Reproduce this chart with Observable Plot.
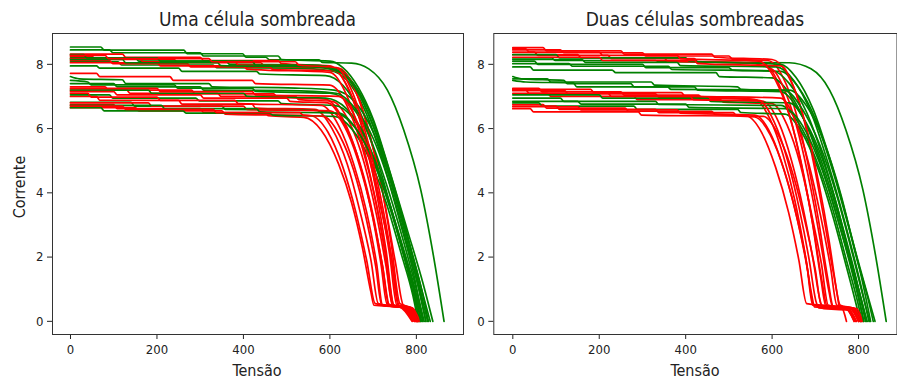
<!DOCTYPE html>
<html>
<head>
<meta charset="utf-8">
<script src="https://cdn.jsdelivr.net/npm/d3@7"></script>
<script src="https://cdn.jsdelivr.net/npm/@observablehq/plot@0.6"></script>
<style>
  html, body { margin: 0; padding: 0; background: #fff; }
  #wrap { position: relative; width: 897px; height: 381px; overflow: hidden; }
  #wrap svg { position: absolute; top: 0; }
  .lbl { font-family: "DejaVu Sans Condensed", "DejaVu Sans", sans-serif; fill: #222; }
</style>
</head>
<body>
<div id="wrap"></div>
<script>
// ---------- DATA (Tensão, Corrente pairs) ----------
const panelTitles = ["Uma célula sombreada", "Duas células sombreadas"];
const xLabel = "Tensão";
const yLabel = "Corrente";
const xTicks = [0, 200, 400, 600, 800];
const yTicks = [0, 2, 4, 6, 8];

// Left panel: one shaded cell
const unaGreen = [
  [0,8.54, 70,8.54, 78,8.44, 262,8.44, 270,8.33, 398,8.33, 406,8.22, 452,8.22, 460,8.14, 575,8.14, 583,8.06, 650,8.04, 690,7.86, 733,7.2, 771,5.95, 810,4.1, 840,2.0, 864,0],
  [0,8.45, 90,8.45, 98,8.36, 300,8.36, 308,8.26, 480,8.26, 488,8.15, 600,8.1, 630,7.9, 665,7.3, 700,6.3, 740,4.6, 780,2.8, 815,1.2, 838,0],
  [0,8.08, 110,8.08, 118,7.98, 330,7.98, 338,7.9, 520,7.88, 600,7.8, 640,7.5, 680,6.6, 720,5.1, 760,3.2, 795,1.4, 815,0],
  [0,7.95, 60,7.95, 68,7.88, 250,7.88, 258,7.78, 430,7.78, 438,7.7, 590,7.65, 630,7.35, 670,6.5, 710,5.0, 750,3.1, 785,1.3, 808,0],
  [0,8.2, 150,8.2, 158,8.1, 360,8.1, 368,8.0, 560,7.98, 620,7.85, 655,7.4, 695,6.4, 735,4.8, 775,2.9, 805,1.2, 826,0],
  [0,7.62, 20,7.55, 120,7.52, 128,7.4, 320,7.4, 328,7.3, 520,7.26, 610,7.2, 660,6.8, 700,5.9, 740,4.4, 780,2.6, 812,1.0, 832,0],
  [0,7.5, 40,7.45, 48,7.36, 240,7.36, 248,7.26, 420,7.26, 428,7.16, 600,7.1, 650,6.7, 690,5.8, 730,4.3, 770,2.5, 800,1.0, 818,0],
  [0,7.05, 90,7.05, 98,6.95, 290,6.95, 298,6.86, 480,6.86, 488,6.78, 610,6.72, 655,6.3, 695,5.3, 735,3.8, 770,2.2, 798,0.8, 812,0],
  [0,6.82, 140,6.82, 148,6.7, 350,6.7, 358,6.6, 540,6.58, 620,6.45, 660,6.0, 700,5.0, 740,3.5, 775,1.9, 798,0.7, 806,0],
  [0,6.65, 70,6.65, 78,6.55, 260,6.55, 268,6.48, 460,6.48, 468,6.42, 610,6.38, 650,6.0, 690,5.1, 730,3.7, 765,2.1, 792,0.8, 804,0],
  [0,7.2, 180,7.2, 188,7.1, 400,7.1, 408,7.0, 590,6.95, 640,6.6, 680,5.8, 720,4.4, 760,2.7, 795,1.1, 815,0],
  [0,8.3, 30,8.3, 38,8.2, 200,8.2, 208,8.1, 420,8.1, 428,7.98, 580,7.95, 630,7.7, 670,7.0, 710,5.7, 750,3.9, 790,1.9, 822,0],
  [0,8.15, 120,8.15, 128,8.05, 340,8.05, 348,7.96, 560,7.92, 625,7.75, 662,7.2, 700,6.1, 740,4.5, 780,2.6, 812,1.0, 828,0],
  [0,7.4, 100,7.4, 108,7.3, 300,7.3, 308,7.2, 500,7.18, 615,7.1, 660,6.6, 700,5.7, 740,4.2, 778,2.4, 808,0.9, 822,0],
  [0,6.72, 210,6.72, 218,6.62, 430,6.62, 438,6.52, 620,6.48, 660,6.0, 700,5.0, 738,3.6, 772,2.0, 800,0.7, 810,0]
];
const unaRed = [
  [0,6.75, 100,6.75, 108,6.62, 300,6.62, 308,6.5, 450,6.5, 458,6.4, 540,6.35, 580,5.95, 620,4.9, 650,3.7, 675,2.3, 695,0.9, 702,0.5, 760,0.45, 790,0],
  [0,7.0, 60,7.0, 68,6.88, 250,6.88, 258,6.76, 420,6.76, 428,6.64, 565,6.6, 605,6.0, 640,4.9, 670,3.4, 695,1.9, 712,0.55, 770,0.42, 795,0],
  [0,8.32, 120,8.32, 128,8.22, 300,8.22, 308,8.12, 480,8.12, 488,8.02, 600,7.95, 640,7.3, 675,6.0, 705,4.2, 730,2.2, 748,0.5, 782,0.4, 800,0],
  [0,8.25, 50,8.25, 58,8.15, 240,8.15, 248,8.05, 440,8.05, 448,7.95, 620,7.88, 655,7.3, 690,5.9, 718,4.3, 742,2.4, 762,0.55, 788,0.42, 806,0],
  [0,8.18, 160,8.18, 168,8.08, 380,8.08, 388,7.98, 560,7.95, 630,7.75, 665,7.0, 700,5.4, 728,3.6, 752,1.8, 770,0.5, 792,0.4, 810,0],
  [0,7.3, 80,7.3, 88,7.2, 280,7.2, 288,7.08, 470,7.08, 478,6.98, 590,6.92, 630,6.3, 665,5.1, 695,3.5, 718,1.8, 732,0.55, 780,0.42, 800,0],
  [0,7.2, 130,7.2, 138,7.1, 340,7.1, 348,7.0, 520,7.0, 528,6.9, 605,6.85, 645,6.2, 680,4.9, 708,3.3, 730,1.7, 745,0.5, 785,0.4, 803,0],
  [0,7.1, 40,7.1, 48,6.98, 200,6.98, 208,6.88, 380,6.88, 388,6.78, 580,6.72, 620,6.1, 655,4.9, 685,3.4, 708,1.8, 722,0.5, 775,0.42, 797,0],
  [0,6.65, 150,6.65, 158,6.55, 350,6.55, 358,6.45, 555,6.4, 595,5.9, 630,4.8, 660,3.4, 685,1.9, 705,0.55, 765,0.45, 792,0],
  [0,8.12, 90,8.12, 98,8.02, 270,8.02, 278,7.92, 460,7.92, 468,7.84, 610,7.8, 648,7.1, 682,5.7, 712,4.0, 738,2.1, 755,0.5, 785,0.42, 804,0],
  [0,7.72, 60,7.72, 68,7.62, 230,7.62, 238,7.5, 420,7.5, 428,7.4, 600,7.35, 640,6.7, 675,5.4, 705,3.8, 730,2.0, 748,0.5, 783,0.4, 802,0],
  [0,8.05, 200,8.05, 208,7.95, 400,7.95, 408,7.85, 600,7.75, 640,7.0, 672,5.7, 702,4.0, 728,2.1, 745,0.5, 784,0.42, 801,0],
  [0,6.8, 180,6.8, 188,6.7, 400,6.7, 408,6.6, 600,6.55, 640,5.9, 672,4.7, 700,3.2, 722,1.7, 736,0.5, 778,0.4, 798,0],
  [0,7.25, 200,7.25, 208,7.15, 420,7.15, 428,7.05, 620,7.0, 660,6.3, 692,5.0, 720,3.4, 745,1.8, 760,0.5, 790,0.42, 808,0],
  [0,8.28, 80,8.28, 88,8.18, 320,8.18, 328,8.08, 520,8.08, 528,7.98, 615,7.9, 650,7.2, 684,5.8, 714,4.1, 740,2.2, 758,0.5, 786,0.42, 803,0],
  [0,7.15, 100,7.15, 108,7.05, 300,7.05, 308,6.95, 500,6.95, 508,6.85, 595,6.8, 635,6.1, 670,4.9, 700,3.3, 722,1.7, 738,0.5, 782,0.42, 802,0],
  [0,6.7, 120,6.7, 128,6.6, 330,6.6, 338,6.5, 530,6.5, 538,6.42, 585,6.38, 622,5.8, 655,4.7, 684,3.2, 706,1.7, 720,0.5, 772,0.42, 796,0]
];

// Right panel: two shaded cells
const duasGreen = [
  [0,8.2, 90,8.2, 98,8.12, 330,8.12, 338,8.08, 640,8.05, 690,7.86, 733,7.2, 771,5.95, 810,4.1, 840,2.0, 864,0],
  [0,8.1, 50,8.1, 58,8.0, 300,8.0, 308,7.9, 500,7.9, 508,7.82, 620,7.78, 660,7.3, 700,6.3, 740,4.7, 780,2.8, 815,1.1, 838,0],
  [0,8.02, 130,8.02, 138,7.94, 360,7.94, 368,7.84, 600,7.8, 640,7.4, 680,6.5, 720,5.0, 760,3.1, 795,1.3, 816,0],
  [0,7.92, 40,7.92, 48,7.82, 230,7.82, 238,7.74, 470,7.74, 478,7.62, 600,7.58, 640,7.1, 680,6.1, 720,4.6, 760,2.8, 795,1.1, 812,0],
  [0,8.3, 100,8.3, 108,8.2, 400,8.2, 408,8.1, 620,8.0, 655,7.6, 695,6.6, 735,5.0, 775,3.1, 808,1.3, 828,0],
  [0,7.62, 20,7.55, 118,7.5, 126,7.4, 273,7.4, 281,7.3, 358,7.3, 366,7.22, 640,7.2, 680,6.7, 720,5.6, 760,3.9, 795,2.0, 822,0.7, 834,0],
  [0,7.5, 30,7.45, 140,7.42, 148,7.3, 420,7.3, 428,7.2, 620,7.15, 660,6.6, 700,5.5, 740,3.9, 778,2.1, 806,0.7, 818,0],
  [0,6.95, 110,6.95, 118,6.85, 330,6.85, 338,6.75, 620,6.72, 660,6.2, 700,5.1, 738,3.6, 772,1.9, 798,0.6, 808,0],
  [0,6.8, 60,6.8, 68,6.7, 280,6.7, 288,6.6, 520,6.6, 528,6.5, 630,6.45, 668,5.9, 705,4.8, 740,3.3, 772,1.7, 795,0.5, 804,0],
  [0,7.05, 200,7.05, 208,6.95, 450,6.95, 458,6.85, 640,6.8, 678,6.2, 715,5.1, 750,3.6, 782,1.9, 808,0.6, 820,0],
  [0,8.15, 160,8.15, 168,8.06, 380,8.06, 388,7.96, 610,7.92, 650,7.5, 690,6.5, 730,4.9, 770,3.0, 804,1.2, 824,0],
  [0,7.55, 80,7.55, 88,7.45, 320,7.45, 328,7.35, 520,7.3, 528,7.22, 630,7.18, 670,6.6, 710,5.5, 750,3.9, 786,2.1, 812,0.7, 826,0],
  [0,6.85, 150,6.85, 158,6.76, 400,6.76, 408,6.66, 630,6.62, 670,6.1, 708,5.0, 745,3.5, 778,1.9, 802,0.6, 812,0]
];
const duasRed = [
  [0,8.52, 70,8.52, 78,8.42, 250,8.42, 258,8.32, 460,8.32, 468,8.22, 600,8.15, 635,7.7, 665,6.7, 695,5.0, 720,3.2, 742,1.5, 758,0.5, 790,0.4, 808,0],
  [0,8.45, 110,8.45, 118,8.36, 300,8.36, 308,8.26, 500,8.26, 508,8.16, 590,8.12, 625,7.6, 655,6.5, 683,4.9, 708,3.1, 728,1.4, 742,0.45, 785,0.38, 802,0],
  [0,8.38, 50,8.38, 58,8.28, 220,8.28, 228,8.18, 420,8.18, 428,8.08, 580,8.02, 615,7.4, 645,6.2, 672,4.6, 697,2.8, 716,1.2, 728,0.45, 780,0.4, 800,0],
  [0,8.3, 150,8.3, 158,8.2, 350,8.2, 358,8.1, 540,8.05, 600,7.85, 632,7.1, 662,5.8, 690,4.1, 713,2.4, 732,0.9, 740,0.45, 790,0.38, 805,0],
  [0,7.25, 60,7.25, 68,7.14, 250,7.14, 258,7.04, 430,7.04, 438,6.96, 560,6.9, 595,6.3, 625,5.2, 652,3.8, 675,2.2, 692,0.8, 698,0.45, 770,0.4, 790,0],
  [0,7.18, 120,7.18, 128,7.08, 330,7.08, 338,6.98, 520,6.95, 580,6.85, 615,6.2, 645,5.0, 672,3.5, 695,1.9, 712,0.6, 718,0.4, 775,0.35, 795,0],
  [0,7.1, 80,7.1, 88,7.0, 280,7.0, 288,6.9, 480,6.9, 488,6.82, 600,6.78, 635,6.1, 665,4.9, 692,3.3, 714,1.8, 730,0.5, 780,0.42, 800,0],
  [0,6.75, 70,6.75, 78,6.64, 260,6.64, 268,6.54, 460,6.54, 468,6.44, 540,6.4, 575,5.9, 608,4.8, 638,3.4, 662,1.9, 680,0.55, 760,0.45, 772,0],
  [0,6.68, 150,6.68, 158,6.58, 380,6.58, 388,6.48, 560,6.42, 598,5.8, 630,4.6, 658,3.2, 682,1.6, 696,0.5, 775,0.42, 795,0],
  [0,6.62, 40,6.62, 48,6.52, 290,6.52, 298,6.42, 580,6.38, 618,5.7, 650,4.5, 678,3.0, 700,1.6, 714,0.5, 785,0.4, 805,0],
  [0,8.22, 200,8.22, 208,8.12, 420,8.12, 428,8.02, 620,7.95, 650,7.3, 680,6.0, 708,4.3, 732,2.5, 750,0.9, 756,0.45, 795,0.4, 810,0],
  [0,7.22, 180,7.22, 188,7.12, 390,7.12, 398,7.02, 620,6.95, 655,6.2, 685,4.9, 712,3.3, 735,1.7, 750,0.5, 790,0.4, 808,0],
  [0,8.48, 30,8.48, 38,8.38, 200,8.38, 208,8.28, 380,8.28, 388,8.18, 570,8.1, 608,7.5, 640,6.4, 668,4.9, 693,3.1, 712,1.4, 725,0.45, 782,0.4, 801,0],
  [0,7.2, 30,7.2, 38,7.1, 220,7.1, 228,7.0, 410,7.0, 418,6.9, 570,6.86, 605,6.2, 636,5.0, 663,3.5, 686,1.9, 702,0.6, 708,0.42, 772,0.38, 793,0],
  [0,6.7, 100,6.7, 108,6.6, 330,6.6, 338,6.5, 510,6.5, 518,6.4, 560,6.36, 596,5.8, 628,4.7, 656,3.3, 680,1.8, 694,0.5, 770,0.42, 790,0]
];

// ---------- BUILD ----------
function rowsFor(greens, reds) {
  const rows = [];
  const n = Math.max(greens.length, reds.length);
  const add = (c, id, color) => {
    for (let i = 0; i < c.length; i += 2) rows.push({ V: c[i], I: c[i + 1], id, color });
  };
  for (let k = 0; k < n; k++) {
    if (greens[k]) add(greens[k], "g" + k, "green");
    if (reds[k]) add(reds[k], "r" + k, "red");
  }
  return rows;
}

const FONT = '"DejaVu Sans Condensed", "DejaVu Sans", sans-serif';

function panel(rows, opts) {
  return Plot.plot({
    width: opts.width,
    height: 381,
    marginLeft: opts.ml,
    marginRight: opts.mr,
    marginTop: 33,
    marginBottom: 47,
    style: { fontFamily: FONT, fontSize: "13px", color: "#222", background: "transparent" },
    x: { domain: opts.xd, ticks: xTicks, tickSize: 5, tickPadding: 5, label: null, tickFormat: d => String(d) },
    y: { domain: [-0.41, 8.96], ticks: yTicks, tickSize: 5, tickPadding: 4, label: null, tickFormat: d => String(d) },
    color: { type: "identity" },
    marks: [
      Plot.line(rows, { x: "V", y: "I", z: "id", stroke: "color", strokeWidth: 1.7, curve: "monotone-x" }),
      Plot.frame({ stroke: "#333", strokeWidth: 1 })
    ]
  });
}

const wrap = document.getElementById("wrap");
const left = panel(rowsFor(unaGreen, unaRed), { width: 470, ml: 52, mr: 7, xd: [-41.6, 909] });
left.style.left = "0px";
wrap.appendChild(left);
const right = panel(rowsFor(duasGreen, duasRed), { width: 457, ml: 53.3, mr: 0.5, xd: [-44, 889] });
right.style.left = "440px";
wrap.appendChild(right);

// Titles and axis labels
const ov = d3.select(wrap).append("svg")
  .attr("width", 897).attr("height", 381)
  .style("left", "0px").style("pointer-events", "none");
const texts = [
  { x: 257.5, y: 26, t: panelTitles[0], s: 19 },
  { x: 695, y: 26, t: panelTitles[1], s: 19 },
  { x: 257, y: 376, t: xLabel, s: 16 },
  { x: 695, y: 376, t: xLabel, s: 16 }
];
ov.selectAll("text.t").data(texts).join("text")
  .attr("class", "lbl")
  .attr("x", d => d.x).attr("y", d => d.y)
  .attr("text-anchor", "middle")
  .style("font-size", d => d.s + "px")
  .text(d => d.t);
ov.append("text").attr("class", "lbl")
  .attr("transform", "translate(25,187) rotate(-90)")
  .attr("text-anchor", "middle")
  .style("font-size", "16px")
  .text(yLabel);
</script>
</body>
</html>
